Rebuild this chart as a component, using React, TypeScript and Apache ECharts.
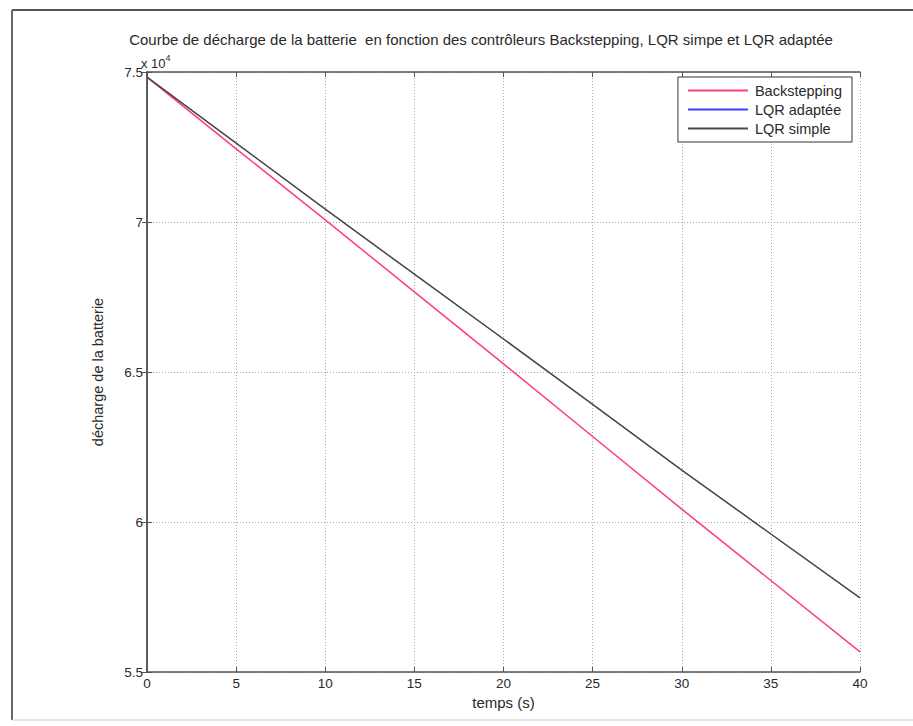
import React, { useEffect, useRef } from "react";
import * as echarts from "echarts";

const times = [0, 5, 10, 15, 20, 25, 30, 35, 40];
const backstepping = [74830, 72440, 70070, 67670, 65270, 62850, 60430, 58050, 55670];
const lqrAdaptee = [74830, 72630, 70430, 68260, 66100, 63920, 61730, 59600, 57470];
const lqrSimple = [74830, 72630, 70430, 68260, 66100, 63920, 61730, 59600, 57470];

const FONT = "'Liberation Sans', Arial, sans-serif";
const TXT = "#2a2a2a";

export default function App() {
  const ref = useRef<HTMLDivElement>(null);
  useEffect(() => {
    if (!ref.current) return;
    const chart = echarts.init(ref.current, null, { renderer: "svg" });
    const pair = (arr: number[]) => times.map((t, i) => [t, arr[i]]);
    const axisLine = { show: true, lineStyle: { color: "#555", width: 1.5 } };
    const tick = { show: true, inside: true, length: 5, lineStyle: { color: "#555" } };
    const grid = { show: true, lineStyle: { color: "#aaa", type: [1, 2], width: 1 } };
    chart.setOption({
      animation: false,
      backgroundColor: "#fff",
      title: {
        text: "Courbe de décharge de la batterie  en fonction des contrôleurs Backstepping, LQR simpe et LQR adaptée",
        left: 481,
        top: 31,
        padding: 0,
        textAlign: "center",
        textStyle: { fontFamily: FONT, fontSize: 15, lineHeight: 16, fontWeight: "normal", color: TXT },
      },
      grid: { left: 147, right: 53, top: 72, bottom: 54, show: false },
      legend: {
        orient: "vertical",
        right: 61,
        top: 77,
        backgroundColor: "#fff",
        borderColor: "#333",
        borderWidth: 1,
        borderRadius: 0,
        padding: [6, 10, 6, 10],
        itemGap: 4,
        itemWidth: 60,
        itemHeight: 2,
        icon: "rect",
        textStyle: { fontFamily: FONT, fontSize: 14.5, color: TXT, padding: [0, 0, 0, 2] },
        data: ["Backstepping", "LQR adaptée", "LQR simple"],
      },
      xAxis: [
        {
          type: "value",
          min: 0,
          max: 40,
          interval: 5,
          position: "bottom",
          axisLine,
          axisTick: tick,
          axisLabel: { fontFamily: FONT, fontSize: 13.5, color: TXT, margin: 4 },
          splitLine: grid,
          name: "temps (s)",
          nameLocation: "middle",
          nameGap: 19,
          nameTextStyle: { fontFamily: FONT, fontSize: 15, color: TXT },
        },
        {
          type: "value",
          min: 0,
          max: 40,
          interval: 5,
          position: "top",
          axisLine,
          axisTick: tick,
          axisLabel: { show: false },
          splitLine: { show: false },
        },
      ],
      yAxis: [
        {
          type: "value",
          min: 55000,
          max: 75000,
          interval: 5000,
          position: "left",
          axisLine,
          axisTick: tick,
          axisLabel: {
            fontFamily: FONT,
            fontSize: 13.5,
            color: TXT,
            margin: 4,
            formatter: (v: number) => String(v / 10000),
          },
          splitLine: grid,
          name: "décharge de la batterie",
          nameLocation: "middle",
          nameGap: 42,
          nameTextStyle: { fontFamily: FONT, fontSize: 14.5, color: TXT },
        },
        {
          type: "value",
          min: 55000,
          max: 75000,
          interval: 5000,
          position: "right",
          axisLine,
          axisTick: tick,
          axisLabel: { show: false },
          splitLine: { show: false },
        },
      ],
      graphic: [
        {
          type: "line",
          shape: { x1: 12, y1: 10, x2: 913, y2: 10 },
          style: { stroke: "#555", lineWidth: 2 },
        },
        {
          type: "line",
          shape: { x1: 12, y1: 10, x2: 12, y2: 720 },
          style: { stroke: "#666", lineWidth: 2 },
        },
        {
          type: "line",
          shape: { x1: 12, y1: 720, x2: 913, y2: 720 },
          style: { stroke: "#ccc", lineWidth: 1 },
        },
        {
          type: "text",
          x: 141,
          y: 53,
          style: {
            text: "{a|x 10}{b|4}",
            rich: {
              a: { fontFamily: FONT, fontSize: 13, fill: TXT, verticalAlign: "bottom" },
              b: { fontFamily: FONT, fontSize: 9, fill: TXT, padding: [0, 0, 8, 0] },
            },
          },
        },
      ],
      series: [
        {
          name: "Backstepping",
          type: "line",
          data: pair(backstepping),
          symbol: "none",
          lineStyle: { color: "#ff3f6e", width: 1.5 },
          itemStyle: { color: "#ff3f6e" },
        },
        {
          name: "LQR adaptée",
          type: "line",
          data: pair(lqrAdaptee),
          symbol: "none",
          lineStyle: { color: "#3a3aff", width: 1 },
          itemStyle: { color: "#3a3aff" },
        },
        {
          name: "LQR simple",
          type: "line",
          data: pair(lqrSimple),
          symbol: "none",
          lineStyle: { color: "#4a4a4a", width: 1.5 },
          itemStyle: { color: "#4a4a4a" },
        },
      ],
    });
    return () => chart.dispose();
  }, []);
  return (
    <div
      ref={ref}
      style={{ position: "fixed", left: 0, top: 0, width: 913, height: 726 }}
    />
  );
}
